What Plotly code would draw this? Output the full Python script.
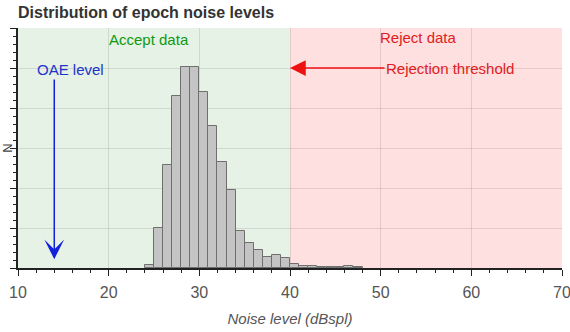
import plotly.graph_objects as go

# ---- data ----
bin_left = [24, 25, 26, 27, 28, 29, 30, 31, 32, 33, 34, 35, 36, 37, 38, 39,
            40, 41, 42, 43, 44, 45, 46, 47]
counts = [7, 100, 257, 430, 502, 503, 439, 355, 264, 195, 92, 63, 44, 27, 32, 24,
          10, 6, 6, 2, 3, 2, 5, 3]
x_ticks = [10, 20, 30, 40, 50, 60, 70]
threshold = 40
oae_level = 14

FONT = "Arial, Liberation Sans, sans-serif"

fig = go.Figure()
fig.add_trace(go.Bar(
    x=[b + 0.5 for b in bin_left], y=counts, width=1,
    marker=dict(color="#c4c4c4", line=dict(color="#6f6f6f", width=1)),
    showlegend=False, hoverinfo="skip"))

# regions
fig.add_shape(type="rect", xref="x", yref="paper", x0=10, x1=threshold, y0=0, y1=1,
              fillcolor="rgba(0,128,0,0.10)", line=dict(width=0), layer="below")
fig.add_shape(type="rect", xref="x", yref="paper", x0=threshold, x1=70, y0=0, y1=1,
              fillcolor="rgba(255,0,0,0.12)", line=dict(width=0), layer="below")

fig.add_annotation(x=24.4, y=572, text="Accept data", showarrow=False,
                   font=dict(color="#119911", size=15, family=FONT))
fig.add_annotation(x=54.2, y=576, text="Reject data", showarrow=False,
                   font=dict(color="#e02020", size=15, family=FONT))
fig.add_annotation(x=15.8, y=497, text="OAE level", showarrow=False,
                   font=dict(color="#2233cc", size=15, family=FONT))
fig.add_annotation(x=oae_level, y=22, ax=oae_level, ay=475, axref="x", ayref="y",
                   text="", showarrow=True, arrowhead=3, arrowsize=2.2, arrowwidth=1.5,
                   arrowcolor="#1122dd")
fig.add_annotation(x=threshold, y=500, ax=160, ay=0, text="Rejection threshold",
                   showarrow=True, arrowhead=2, arrowsize=2.1, arrowwidth=1.5,
                   arrowcolor="#ee1111",
                   font=dict(color="#e02020", size=15, family=FONT))

fig.update_layout(
    width=570, height=332,
    margin=dict(l=18, r=8, t=28, b=64),
    paper_bgcolor="white", plot_bgcolor="white",
    font=dict(family=FONT),
    title=dict(text="<b>Distribution of epoch noise levels</b>", x=18/570, xanchor="left",
               y=1 - 12/332, yanchor="middle", xref="container",
               font=dict(size=16, color="#333333", family=FONT)),
    bargap=0,
    xaxis=dict(range=[10, 70], tickvals=x_ticks, ticks="outside", ticklen=6,
               tickcolor="#222", showline=True, linecolor="#222", linewidth=1.5,
               showgrid=True, gridcolor="rgba(0,0,0,0.1)", zeroline=False,
               automargin=False, ticklabelstandoff=3, ticklabeloverflow="allow",
               tickfont=dict(size=16, color="#555555", family=FONT),
               minor=dict(ticks="outside", dtick=2, ticklen=3, tickcolor="#222", showgrid=False),
               title=dict(text="<i>Noise level (dBspl)</i>", standoff=14,
                          font=dict(size=15, color="#555555", family=FONT))),
    yaxis=dict(range=[0, 600], dtick=100, showticklabels=False, ticks="outside", ticklen=6,
               tickcolor="#222", showline=True, linecolor="#222", linewidth=1.5,
               showgrid=True, gridcolor="rgba(0,0,0,0.1)", zeroline=False,
               automargin=False,
               minor=dict(ticks="outside", dtick=20, ticklen=3, tickcolor="#222", showgrid=False),
               title=dict(text="N", standoff=2, font=dict(size=13, color="#444444", family=FONT))),
)

fig.write_html("out.html")
